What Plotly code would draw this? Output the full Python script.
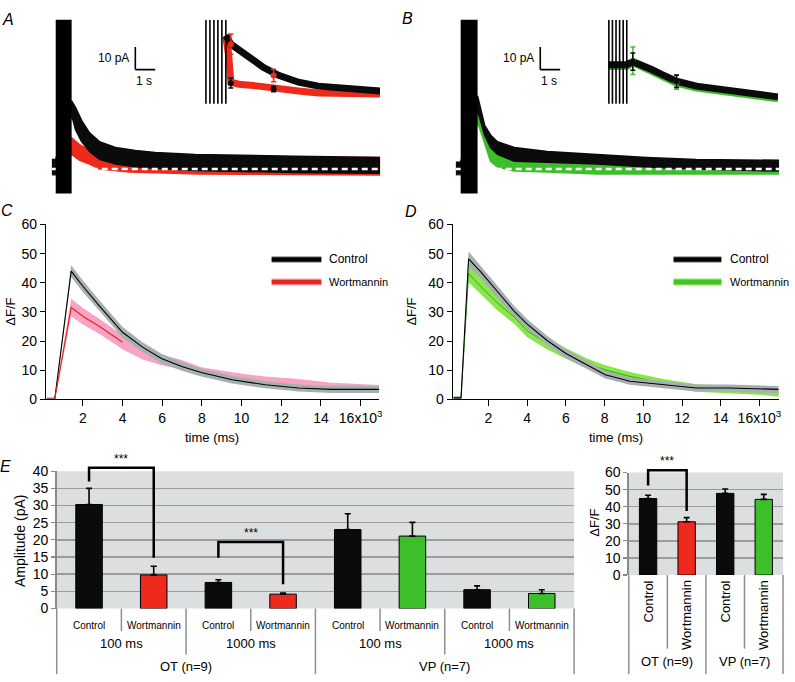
import plotly.graph_objects as go

W, H = 795, 682
FONT = "Liberation Sans, Arial, Helvetica, sans-serif"


def dom_x(a, b):
    return [a / W, b / W]


def dom_y(top, bottom):
    return [1 - bottom / H, 1 - top / H]


def py(p):
    return 1 - p / H


def pxx(p):
    return p / W


def F(size):
    return dict(family=FONT, size=size, color="black")


BLACK = "#0b0b0b"
RED = "#ee2a1c"
GREEN = "#3cbf2a"

# ---------------- Panel A (time s, current pA) ----------------
a_stim = [0.0, 0.8]
a_baseline = 0.0
a_ctrl_t = [-0.2, 0.0, 0.8, 1.0, 1.3, 1.7, 2.2, 3.0, 4.0, 5.0, 7.0, 9.0, 12.0, 16.3]
a_ctrl_hi = [4.3, 4.3, 30.4, 27.4, 21.7, 16.1, 12.2, 9.6, 8.3, 7.4, 6.5, 6.1, 5.7, 5.2]
a_ctrl_lo = [-2.2, -2.2, 23.9, 17.4, 12.2, 7.8, 4.3, 2.2, 1.0, 0.4, -0.6, -1.0, -1.5, -1.9]
a_wort_t = [-0.2, 0.0, 0.8, 1.2, 1.7, 2.2, 3.7, 7.2, 16.3]
a_wort_hi = [3.5, 3.5, 13.9, 10.9, 8.3, 7.0, 6.1, 5.7, 5.2]
a_wort_lo = [-2.6, -2.6, 6.5, 3.9, 2.2, 0.0, -1.3, -2.2, -2.6]

# inset A (ms, pA)
ai_stim = [5, 25, 45, 65, 85, 105]
ai_ctrl_t = [105, 130, 220, 295, 370, 470, 570, 670, 770, 880]
ai_ctrl = [18.0, 15.75, 12.5, 9.75, 7.75, 6.0, 5.0, 4.5, 4.0, 3.75]
ai_wort_t = [105, 120, 130, 170, 270, 370, 470, 570, 880]
ai_wort = [17.5, 12.5, 6.0, 5.5, 5.0, 4.25, 3.75, 3.25, 3.0]
ai_mark_t = [130, 345]
ai_mark_red = [15.75, 7.75]
ai_mark_red_err = [2.6, 1.6]
ai_mark_black = [5.75, 4.25]
ai_mark_black_err = [1.25, 0.7]

# ---------------- Panel B ----------------
b_stim = [0.0, 0.85]
b_baseline = 0.0
b_ctrl_t = [-0.25, 0.0, 0.85, 1.2, 1.5, 1.85, 2.7, 4.35, 6.85, 9.35, 11.85, 16.0]
b_ctrl_hi = [3.0, 3.0, 32.6, 19.6, 15.2, 12.2, 9.6, 7.8, 6.5, 5.2, 4.3, 3.9]
b_ctrl_lo = [-2.2, -2.2, 26.1, 15.2, 9.6, 6.5, 3.5, 3.0, 2.2, 0.9, 0.0, -0.9]
b_wort_t = [-0.25, 0.0, 0.85, 1.5, 1.85, 2.7, 4.35, 6.85, 11.85, 16.0]
b_wort_hi = [2.5, 2.5, 29.1, 10.9, 7.8, 5.2, 3.5, 3.0, 2.2, 1.3]
b_wort_lo = [-2.6, -2.6, 20.9, 3.5, 0.9, -0.9, -1.3, -2.2, -2.2, -2.2]

bi_stim = [33, 53, 73, 93, 113, 133]
bi_ctrl_t = [33, 133, 167, 217, 272, 328, 411, 522, 633, 800, 978]
bi_ctrl = [10.5, 10.5, 11.25, 10.5, 9.25, 8.0, 6.25, 5.0, 4.25, 3.5, 2.25]
bi_wort_t = [33, 133, 167, 272, 411, 522, 800, 978]
bi_wort = [10.0, 10.0, 11.0, 8.75, 5.75, 4.5, 3.0, 1.75]
bi_mark_t = [167, 411]
bi_mark_black = [11.25, 6.25]
bi_mark_black_err = [2.2, 1.6]
bi_mark_green = [11.5, 6.0]
bi_mark_green_err = [3.5, 1.8]

# scale bar (in panel A/B units)
sb_t = 4.0
sb_pA = 44.3
sb_len_pA = 10
sb_len_s = 1

# ---------------- Panel C (ms, dF/F) ----------------
c_t = [180, 580, 1410, 2000, 2840, 4000, 5010, 5960, 7020, 7970, 9520, 11200, 12870, 14540, 16970]
c_ctrl = [0.0, 0.0, 44.0, 38.8, 32.0, 23.0, 17.9, 14.0, 11.2, 9.2, 6.7, 5.0, 3.9, 3.4, 3.4]
c_ctrl_sem = [0.6, 0.6, 2.0, 2.0, 1.9, 1.8, 1.7, 1.6, 1.5, 1.4, 1.3, 1.2, 1.2, 1.2, 1.2]
c_wort = [0.0, 0.0, 31.5, 28.5, 25.0, 19.6, 15.7, 13.5, 11.8, 9.5, 7.85, 6.5, 5.8, 4.5, 3.7]
c_wort_sem = [0.6, 0.6, 3.0, 2.8, 2.6, 2.4, 2.0, 1.8, 1.6, 1.5, 1.4, 1.3, 1.2, 1.2, 1.2]
c_wort_line_end = 4000

# ---------------- Panel D ----------------
d_t = [200, 580, 970, 1600, 2460, 3320, 4000, 5030, 6000, 7090, 8030, 9310, 11030, 12740, 14450, 16160, 17000]
d_ctrl = [0.5, 0.5, 48.2, 43.7, 37.0, 30.3, 25.8, 20.2, 15.7, 11.8, 8.4, 6.2, 5.0, 3.9, 3.9, 3.4, 3.4]
d_ctrl_sem = [0.5, 0.5, 2.5, 2.2, 2.0, 1.8, 1.7, 1.6, 1.5, 1.4, 1.3, 1.2, 1.2, 1.2, 1.2, 1.2, 1.2]
d_wort = [0.5, 0.5, 43.2, 38.7, 33.1, 28.3, 23.5, 19.1, 15.7, 12.3, 10.1, 7.85, 5.6, 3.9, 3.4, 2.8, 2.2]
d_wort_sem = [0.5, 0.5, 3.0, 2.8, 2.6, 2.4, 2.2, 2.0, 1.8, 1.7, 1.6, 1.5, 1.4, 1.3, 1.3, 1.3, 1.3]

time_ticks = [2000, 4000, 6000, 8000, 10000, 12000, 14000, 16000]
time_ticktext = ["2", "4", "6", "8", "10", "12", "14", "16x10<sup>3</sup>"]

# ---------------- Panel E ----------------
e_groups = ["OT (n=9)", "VP (n=7)"]
e_durations = ["100 ms", "1000 ms"]
e_conditions = ["Control", "Wortmannin"]
e_amp = [30.3, 9.8, 7.6, 4.2, 23.0, 21.1, 5.5, 4.4]
e_amp_err = [4.7, 2.5, 0.8, 0.3, 4.6, 4.0, 1.1, 1.1]
e_amp_color = [BLACK, RED, BLACK, RED, BLACK, GREEN, BLACK, GREEN]
e_amp_ticks = [0, 5, 10, 15, 20, 25, 30, 35, 40]
# (left bar, right bar, bracket top, left leg bottom, right leg bottom)
e_amp_sig = [(0, 1, 41.0, 37.0, 14.8), (2, 3, 19.4, 14.8, 7.1)]

e_df = [44.8, 31.2, 47.8, 44.3]
e_df_err = [1.9, 2.4, 2.6, 2.9]
e_df_color = [BLACK, RED, BLACK, GREEN]
e_df_ticks = [0, 10, 20, 30, 40, 50, 60]
e_df_sig = [(0, 1, 61.4, 52.4, 37.5)]

fig = go.Figure()


def env(t, hi, lo):
    return list(t) + list(t)[::-1], list(hi) + list(lo)[::-1]


def add(tr):
    tr.update(hoverinfo="skip", showlegend=False)
    fig.add_trace(tr)


annotations = []


def note(**kw):
    kw.setdefault("xanchor", "center")
    kw.setdefault("yanchor", "middle")
    kw.setdefault("showarrow", False)
    annotations.append(kw)


# ---- Panel A/B traces ----
for (xa, ya, series, base) in [
    ("x", "y", [(a_wort_t, a_wort_hi, a_wort_lo, RED), (a_ctrl_t, a_ctrl_hi, a_ctrl_lo, BLACK)], a_baseline),
    ("x3", "y3", [(b_wort_t, b_wort_hi, b_wort_lo, GREEN), (b_ctrl_t, b_ctrl_hi, b_ctrl_lo, BLACK)], b_baseline),
]:
    for t, hi, lo, col in series:
        xx, yy = env(t, hi, lo)
        add(go.Scatter(x=xx, y=yy, mode="lines", fill="toself", fillcolor=col,
                       line=dict(color=col, width=1.5), xaxis=xa, yaxis=ya))
    tt = series[1][0]
    add(go.Scatter(x=[tt[0], tt[-1]], y=[base, base], mode="lines",
                   line=dict(color="white", width=2.5, dash="6px,4px"), xaxis=xa, yaxis=ya))

# insets
for (xa, ya, stim, curves, marks) in [
    ("x2", "y2", ai_stim,
     [(ai_wort_t, ai_wort, RED), (ai_ctrl_t, ai_ctrl, BLACK)],
     [(ai_mark_t, ai_mark_red, ai_mark_red_err, RED), (ai_mark_t, ai_mark_black, ai_mark_black_err, BLACK)]),
    ("x4", "y4", bi_stim,
     [(bi_wort_t, bi_wort, GREEN), (bi_ctrl_t, bi_ctrl, BLACK)],
     [(bi_mark_t, bi_mark_green, bi_mark_green_err, GREEN), (bi_mark_t, bi_mark_black, bi_mark_black_err, BLACK)]),
]:
    for t, v, col in curves:
        add(go.Scatter(x=t, y=v, mode="lines", line=dict(color=col, width=7), xaxis=xa, yaxis=ya))
    sx, sy = [], []
    for s in stim:
        sx += [s, s, None]
        sy += [0.5, 22, None]
    add(go.Scatter(x=sx, y=sy, mode="lines", line=dict(color="black", width=1.6), xaxis=xa, yaxis=ya))
    for t, v, e, col in marks:
        add(go.Scatter(x=t, y=v, mode="markers", marker=dict(color=col, size=6),
                       error_y=dict(type="data", array=e, color=col, thickness=1.5, width=2.5),
                       xaxis=xa, yaxis=ya))

# ---- Panel C/D ----
GRAY_BAND = "#a7b0b0"
PINK_BAND = "#f6a3c4"
GREEN_BAND = "#8be64a"
for (xa, ya, t, m1, s1, m2, s2, band2, line2, end2) in [
    ("x5", "y5", c_t, c_ctrl, c_ctrl_sem, c_wort, c_wort_sem, PINK_BAND, "#e3231b", c_wort_line_end),
    ("x6", "y6", d_t, d_ctrl, d_ctrl_sem, d_wort, d_wort_sem, GREEN_BAND, "#2fa82a", None),
]:
    xx, yy = env(t, [a + b for a, b in zip(m2, s2)], [a - b for a, b in zip(m2, s2)])
    add(go.Scatter(x=xx, y=yy, mode="lines", fill="toself", fillcolor=band2,
                   line=dict(width=0), xaxis=xa, yaxis=ya))
    if end2 is None:
        add(go.Scatter(x=t, y=m2, mode="lines", line=dict(color=line2, width=1), xaxis=xa, yaxis=ya))
    xx, yy = env(t, [a + b for a, b in zip(m1, s1)], [a - b for a, b in zip(m1, s1)])
    add(go.Scatter(x=xx, y=yy, mode="lines", fill="toself", fillcolor=GRAY_BAND,
                   line=dict(width=0), xaxis=xa, yaxis=ya))
    add(go.Scatter(x=t, y=m1, mode="lines", line=dict(color="black", width=1.1), xaxis=xa, yaxis=ya))
    if end2 is not None:
        tt = [x for x in t if x <= end2]
        add(go.Scatter(x=tt, y=m2[:len(tt)], mode="lines", line=dict(color=line2, width=1.1),
                       xaxis=xa, yaxis=ya))

# ---- Panel E ----
add(go.Bar(x=list(range(len(e_amp))), y=e_amp, width=0.41,
           marker=dict(color=e_amp_color, line=dict(color="black", width=1)),
           error_y=dict(type="data", array=e_amp_err, arrayminus=[0] * len(e_amp), symmetric=False,
                        color="black", thickness=1.6, width=3),
           xaxis="x7", yaxis="y7"))
add(go.Bar(x=list(range(len(e_df))), y=e_df, width=0.45,
           marker=dict(color=e_df_color, line=dict(color="black", width=1)),
           error_y=dict(type="data", array=e_df_err, arrayminus=[0] * len(e_df), symmetric=False,
                        color="black", thickness=1.6, width=3),
           xaxis="x8", yaxis="y8"))

for (xa, ya, sigs) in [("x9", "y9", e_amp_sig), ("x10", "y10", e_df_sig)]:
    for l, r, top, lb, rb in sigs:
        add(go.Scatter(x=[l, l, r, r], y=[lb, top, top, rb], mode="lines",
                       line=dict(color="black", width=2.5), xaxis=xa, yaxis=ya))
        note(x=(l + r) / 2, y=top, xref=xa, yref=ya, text="***", yanchor="bottom", font=F(12))

# ---------------- layout ----------------
hidden = dict(visible=False, fixedrange=True)
E_TOP_L, E_BOT_L = 474.3, 615.0
E_TOP_R, E_BOT_R = 475.7, 580.7
OVER_TOP = 452.0
lay = dict(
    xaxis=dict(hidden, domain=dom_x(52, 382), range=[-0.2, 16.3], anchor="y"),
    yaxis=dict(hidden, domain=dom_y(12, 190), range=[-10.9, 66.5], anchor="x"),
    xaxis2=dict(hidden, domain=dom_x(206, 382), range=[0, 880], anchor="y2"),
    yaxis2=dict(hidden, domain=dom_y(12, 100), range=[0, 22], anchor="x2"),
    xaxis3=dict(hidden, domain=dom_x(458, 783), range=[-0.25, 16.0], anchor="y3"),
    yaxis3=dict(hidden, domain=dom_y(12, 190), range=[-10.9, 66.5], anchor="x3"),
    xaxis4=dict(hidden, domain=dom_x(606, 782), range=[0, 978], anchor="y4"),
    yaxis4=dict(hidden, domain=dom_y(12, 100), range=[0, 22], anchor="x4"),
)
cd_x = dict(showline=True, linecolor="black", linewidth=1, ticks="outside", ticklen=6, tickwidth=1,
            tickcolor="black", tickvals=time_ticks, ticktext=time_ticktext, showgrid=False,
            zeroline=False, tickfont=F(14))
cd_y = dict(showline=True, linecolor="black", linewidth=1, ticks="outside", ticklen=5, tickwidth=1,
            tickcolor="black", tickvals=[0, 10, 20, 30, 40, 50, 60], showgrid=False, zeroline=False,
            tickfont=F(14), range=[0, 60])
lay["xaxis5"] = dict(cd_x, domain=dom_x(46, 381), range=[130, 16930], anchor="y5")
lay["yaxis5"] = dict(cd_y, domain=dom_y(221.7, 400.7), anchor="x5")
lay["xaxis6"] = dict(cd_x, domain=dom_x(455, 782.7), range=[150, 17000], anchor="y6")
lay["yaxis6"] = dict(cd_y, domain=dom_y(221.7, 400.7), anchor="x6")

e_y = dict(showgrid=True, gridcolor="#9c9c9c", gridwidth=1.5, ticks="outside", ticklen=4,
           tickcolor="#8a8a8a", tickwidth=1.2, showline=True, linecolor="#8a8a8a", linewidth=1.5,
           zeroline=False, tickfont=F(14))
e_x = dict(showticklabels=False, ticks="", showgrid=False, zeroline=False, showline=False)
EL_X = (57, 577)
ER_X = (632, 787)
lay["xaxis7"] = dict(e_x, domain=dom_x(*EL_X), range=[-0.5, len(e_amp) - 0.5], anchor="y7")
lay["yaxis7"] = dict(e_y, domain=dom_y(E_TOP_L, E_BOT_L), range=[0, 40], tickvals=e_amp_ticks, anchor="x7")
lay["xaxis8"] = dict(e_x, domain=dom_x(*ER_X), range=[-0.5, len(e_df) - 0.5], anchor="y8")
lay["yaxis8"] = dict(e_y, domain=dom_y(E_TOP_R, E_BOT_R), range=[0, 60], tickvals=e_df_ticks,
                     tickfont=F(14), anchor="x8")
# overlay axes (same scale, taller domain) so brackets can rise above the plot area
lay["xaxis9"] = dict(hidden, domain=dom_x(*EL_X), range=[-0.5, len(e_amp) - 0.5], anchor="y9")
lay["yaxis9"] = dict(hidden, domain=dom_y(OVER_TOP, E_BOT_L),
                     range=[0, 40 * (E_BOT_L - OVER_TOP) / (E_BOT_L - E_TOP_L)], anchor="x9")
lay["xaxis10"] = dict(hidden, domain=dom_x(*ER_X), range=[-0.5, len(e_df) - 0.5], anchor="y10")
lay["yaxis10"] = dict(hidden, domain=dom_y(OVER_TOP, E_BOT_R),
                      range=[0, 60 * (E_BOT_R - OVER_TOP) / (E_BOT_R - E_TOP_R)], anchor="x10")

shapes = []
# stimulus blocks and scale bars
for xa, ya, stim in [("x", "y", a_stim), ("x3", "y3", b_stim)]:
    shapes.append(dict(type="rect", xref=xa, yref=ya + " domain", x0=stim[0], x1=stim[1], y0=0, y1=1,
                       fillcolor="black", line=dict(width=0), layer="above"))
    shapes.append(dict(type="line", xref=xa, yref=ya, x0=sb_t, x1=sb_t, y0=sb_pA, y1=sb_pA + sb_len_pA,
                       line=dict(color="black", width=1.6)))
    shapes.append(dict(type="line", xref=xa, yref=ya, x0=sb_t, x1=sb_t + sb_len_s, y0=sb_pA, y1=sb_pA,
                       line=dict(color="black", width=1.6)))
    note(x=sb_t - 0.2, y=sb_pA + sb_len_pA / 2, xref=xa, yref=ya, text="10 pA",
         xanchor="right", font=F(12))
    note(x=sb_t + 0.45, y=sb_pA - 1.2, xref=xa, yref=ya, text="1 s", yanchor="top", font=F(12))

# E backgrounds
for xa, ya in [("x7", "y7"), ("x8", "y8")]:
    shapes.append(dict(type="rect", xref=xa + " domain", yref=ya + " domain", x0=0, x1=1, y0=0, y1=1,
                       fillcolor="#dcdfe0", line=dict(width=0), layer="below"))

# E category tables
TABLE_COLOR = "#8f8f8f"
n_l = len(e_amp)
for k in range(n_l + 1):
    xp = EL_X[0] + k / n_l * (EL_X[1] - EL_X[0])
    bottom = 682 if k % 4 == 0 else (662 if k % 2 == 0 else 638)
    shapes.append(dict(type="line", xref="paper", yref="paper", x0=pxx(xp), x1=pxx(xp),
                       y0=py(E_BOT_L), y1=py(bottom), line=dict(color=TABLE_COLOR, width=1.5)))
n_r = len(e_df)
for k in range(n_r + 1):
    xp = ER_X[0] + k / n_r * (ER_X[1] - ER_X[0])
    bottom = 682 if k % 2 == 0 else 656
    shapes.append(dict(type="line", xref="paper", yref="paper", x0=pxx(xp), x1=pxx(xp),
                       y0=py(E_BOT_R), y1=py(bottom), line=dict(color=TABLE_COLOR, width=1.5)))

for i in range(n_l):
    note(x=i, y=py(632), xref="x7", yref="paper", text=e_conditions[i % 2], font=F(10))
for j in range(n_l // 2):
    note(x=2 * j + 0.5, y=py(651), xref="x7", yref="paper", text=e_durations[j % 2], font=F(13))
for g in range(n_l // 4):
    note(x=4 * g + 1.5, y=py(674), xref="x7", yref="paper", text=e_groups[g], font=F(13))
for i in range(n_r):
    note(x=i, y=py(584), xref="x8", yref="paper", text=e_conditions[i % 2],
         textangle=-90, yanchor="top", font=F(13))
for g in range(n_r // 2):
    note(x=2 * g + 0.5, y=py(669), xref="x8", yref="paper", text=e_groups[g], font=F(13))

# legends for C and D
for (x0, x1, xt, col2, edge2) in [(273, 323, 329, "#e8281e", PINK_BAND), (677, 725, 732, "#3cc42a", GREEN_BAND)]:
    for yy, c_edge, c_main in [(257.5, "#a7b0b0", "black"), (280.5, edge2, col2)]:
        shapes.append(dict(type="line", xref="paper", yref="paper", x0=pxx(x0), x1=pxx(x1), y0=py(yy),
                           y1=py(yy), line=dict(color=c_edge, width=7)))
        shapes.append(dict(type="line", xref="paper", yref="paper", x0=pxx(x0), x1=pxx(x1), y0=py(yy),
                           y1=py(yy), line=dict(color=c_main, width=4.5)))
    note(x=pxx(xt), y=py(257.5), xref="paper", yref="paper", text="Control", xanchor="left", font=F(12))
    note(x=pxx(xt), y=py(280.5), xref="paper", yref="paper", text="Wortmannin", xanchor="left", font=F(11))

# axis titles as text
for (x, y, txt, size) in [(11, 311, "ΔF/F", 13), (414, 311, "ΔF/F", 13), (20, 545, "Amplitude (pA)", 14),
                          (598, 527, "ΔF/F", 13)]:
    note(x=pxx(x), y=py(y), xref="paper", yref="paper", text=txt, textangle=-90, font=F(size))
for x in [213.5, 619]:
    note(x=pxx(x), y=py(440), xref="paper", yref="paper", text="time (ms)", font=F(13))

# panel letters
for (x, y, txt) in [(8, 12, "A"), (410, 11, "B"), (7, 207, "C"), (413, 208, "D"), (6, 470, "E")]:
    note(x=pxx(x), y=py(y), xref="paper", yref="paper", text=f"<i>{txt}</i>", font=F(16))

fig.update_layout(
    width=W, height=H, autosize=False,
    margin=dict(l=0, r=0, t=0, b=0),
    paper_bgcolor="white", plot_bgcolor="rgba(0,0,0,0)",
    font=F(13),
    showlegend=False, bargap=0,
    shapes=shapes, annotations=annotations,
    **lay,
)

fig.write_html("out.html", post_script="document.body.style.margin='0';",
               config={"displayModeBar": False, "staticPlot": True})
